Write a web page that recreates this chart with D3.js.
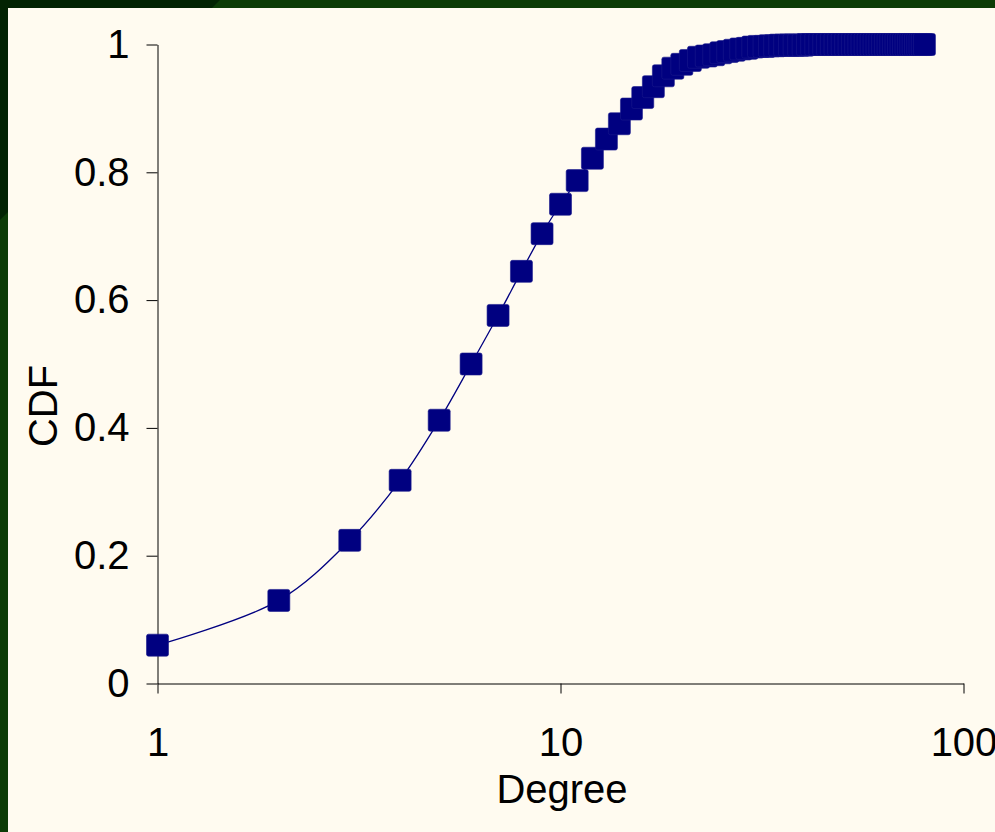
<!DOCTYPE html>
<html>
<head>
<meta charset="utf-8">
<script src="https://cdn.jsdelivr.net/npm/d3@7"></script>
<style>
  html, body { margin: 0; padding: 0; background: #0c3c06; }
  svg { display: block; }
</style>
</head>
<body>
<div id="chart"></div>
<script>
// degree values (x) and the cumulative fraction (y)
const degrees = [1, 2, 3, 4, 5, 6, 7, 8, 9, 10,
  11, 12, 13, 14, 15, 16, 17, 18, 19, 20,
  21, 22, 23, 24, 25, 26, 27, 28, 29, 30,
  31, 32, 33, 34, 35, 36, 37, 38, 39, 40,
  41, 42, 43, 44, 45, 46, 47, 48, 49, 50,
  51, 52, 53, 54, 55, 56, 57, 58, 59, 60,
  61, 62, 63, 64, 65, 66, 67, 68, 69, 70,
  71, 72, 73, 74, 75, 76, 77, 78, 79, 80];
const cdf = [0.060, 0.130, 0.224, 0.318, 0.412, 0.500, 0.576, 0.645, 0.704, 0.750,
  0.787, 0.822, 0.852, 0.876, 0.899, 0.917, 0.934, 0.951, 0.963, 0.969,
  0.975, 0.980, 0.982, 0.984, 0.987, 0.989, 0.991, 0.993, 0.994, 0.996,
  0.997, 0.997, 0.998, 0.998, 0.999, 0.999, 0.999, 0.999, 0.999, 0.999,
  1.000, 1.000, 1.000, 1.000, 1.000, 1.000, 1.000, 1.000, 1.000, 1.000,
  1.000, 1.000, 1.000, 1.000, 1.000, 1.000, 1.000, 1.000, 1.000, 1.000,
  1.000, 1.000, 1.000, 1.000, 1.000, 1.000, 1.000, 1.000, 1.000, 1.000,
  1.000, 1.000, 1.000, 1.000, 1.000, 1.000, 1.000, 1.000, 1.000, 1.000];

const xTicks = [1, 10, 100];
const xTickLabels = ["1", "10", "100"];
const yTicks = [0, 0.2, 0.4, 0.6, 0.8, 1];
const yTickLabels = ["0", "0.2", "0.4", "0.6", "0.8", "1"];

const width = 995;
const height = 832;
const font = "'Liberation Sans', Arial, sans-serif";

const svg = d3.select("#chart")
  .append("svg")
  .attr("width", width)
  .attr("height", height);

// dark green frame, darker in the top-left corner
svg.append("rect")
  .attr("width", width).attr("height", height)
  .attr("fill", "#0c3c06");
svg.append("polygon")
  .attr("points", "0,0 220,0 0,220")
  .attr("fill", "#022302");

// cream panel
svg.append("rect")
  .attr("x", 8).attr("y", 8)
  .attr("width", width - 8).attr("height", height - 8)
  .attr("fill", "#fffbf0");

const x = d3.scaleLog().domain([1, 100]).range([157.5, 963.5]);
const y = d3.scaleLinear().domain([0, 1]).range([683.5, 44.5]);

// y axis
const yAxis = svg.append("g")
  .attr("transform", "translate(157.5,0)")
  .call(d3.axisLeft(y)
    .tickValues(yTicks)
    .tickFormat((d, i) => yTickLabels[i])
    .tickSize(11)
    .tickSizeOuter(0)
    .tickPadding(17));

// x axis
const xAxis = svg.append("g")
  .attr("transform", "translate(0,683.5)")
  .call(d3.axisBottom(x)
    .tickValues(xTicks)
    .tickFormat((d, i) => xTickLabels[i])
    .tickSize(10)
    .tickSizeOuter(0)
    .tickPadding(34));

[xAxis, yAxis].forEach(g => {
  g.selectAll("path, line").attr("stroke", "#000").attr("stroke-width", 1);
  g.selectAll("text")
    .attr("fill", "#000")
    .style("font-family", font)
    .style("font-size", "40px");
});
xAxis.attr("font-family", null);
yAxis.attr("font-family", null);

// axis titles
svg.append("text")
  .attr("x", 562)
  .attr("y", 803)
  .attr("text-anchor", "middle")
  .style("font-family", font)
  .style("font-size", "40px")
  .text("Degree");

svg.append("text")
  .attr("transform", "translate(57,406) rotate(-90)")
  .attr("text-anchor", "middle")
  .style("font-family", font)
  .style("font-size", "40px")
  .text("CDF");

const points = degrees.map((d, i) => ({ d: d, v: cdf[i] }));

// smoothed thin line
const line = d3.line()
  .x(p => x(p.d))
  .y(p => y(p.v))
  .curve(d3.curveCatmullRom.alpha(0.5));

svg.append("path")
  .datum(points)
  .attr("d", line)
  .attr("fill", "none")
  .attr("stroke", "#000080")
  .attr("stroke-width", 1.3);

// square markers
const size = 22;
svg.selectAll("rect.marker")
  .data(points)
  .enter().append("rect")
  .attr("class", "marker")
  .attr("x", p => x(p.d) - size / 2)
  .attr("y", p => y(p.v) - size / 2)
  .attr("width", size)
  .attr("height", size)
  .attr("rx", 2)
  .attr("fill", "#000080")
  .attr("stroke", "#1a1a8c")
  .attr("stroke-width", 0.6);
</script>
</body>
</html>
